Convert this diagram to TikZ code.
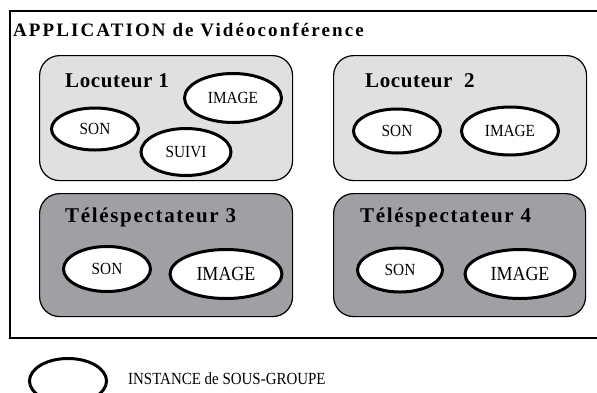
\documentclass[tikz,border=0pt]{standalone}
\usepackage{fontspec}
\setmainfont{Liberation Serif}
\usetikzlibrary{shapes.geometric}
\definecolor{lightpanel}{RGB}{224,224,224}
\definecolor{darkpanel}{RGB}{160,160,164}
\begin{document}
\begin{tikzpicture}[x=1pt,y=-1pt,
  panel/.style={draw=black, line width=1.2pt, rounded corners=20pt, anchor=north west, inner sep=0pt},
  inst/.style={ellipse, draw=black, line width=3pt, fill=white, inner sep=0pt,
    font=\fontsize{17}{17}\selectfont\addfontfeature{FakeStretch=0.9}},
  bigtext/.style={font=\fontsize{20}{20}\selectfont\addfontfeature{FakeStretch=0.9}},
  heading/.style={anchor=base west, inner sep=0pt}]
\useasboundingbox (0,0) rectangle (597,392);
\begin{scope}
\clip (0,0) rectangle (597,392);
% application frame (its right side runs past the page edge)
\node[draw=black, line width=1.5pt, anchor=north west, minimum width=610, minimum height=327, inner sep=0pt] (app) at (9,10) {};
\node[heading, font=\fontsize{19}{19}\selectfont\bfseries\addfontfeature{LetterSpace=11}] (title) at (13,36) {APPLICATION de Vidéoconférence};

% participant panels
\node[panel, fill=lightpanel, minimum width=253, minimum height=125] (loc1) at (39,55) {};
\node[panel, fill=lightpanel, minimum width=253, minimum height=125] (loc2) at (333,55) {};
\node[panel, fill=darkpanel, minimum width=253, minimum height=123] (tel3) at (39,193) {};
\node[panel, fill=darkpanel, minimum width=252, minimum height=123] (tel4) at (333,193) {};

\node[heading, font=\fontsize{21}{21}\selectfont\bfseries\addfontfeature{LetterSpace=3}] (loc1t) at (65,87) {Locuteur 1};
\node[heading, font=\fontsize{21}{21}\selectfont\bfseries\addfontfeature{LetterSpace=3}] (loc2t) at (365,87) {Locuteur\ \ 2};
\node[heading, font=\fontsize{21}{21}\selectfont\bfseries\addfontfeature{LetterSpace=8}] (tel3t) at (65,222) {Téléspectateur 3};
\node[heading, font=\fontsize{21}{21}\selectfont\bfseries\addfontfeature{LetterSpace=8}] (tel4t) at (360,222) {Téléspectateur 4};

% sub-group instances
\node[inst, minimum width=97, minimum height=49] (l1img) at (233,98) {IMAGE};
\node[inst, minimum width=87, minimum height=42] (l1son) at (95,129) {SON};
\node[inst, minimum width=90, minimum height=47] (l1suivi) at (186,152) {SUIVI};

\node[inst, minimum width=87, minimum height=44] (l2son) at (397,131) {SON};
\node[inst, minimum width=97, minimum height=48] (l2img) at (510,131) {IMAGE};

\node[inst, minimum width=87, minimum height=45] (t3son) at (107,269) {SON};
\node[inst, bigtext, minimum width=112, minimum height=49] (t3img) at (226,274) {IMAGE};

\node[inst, minimum width=85, minimum height=44] (t4son) at (400,270) {SON};
\node[inst, bigtext, minimum width=110, minimum height=49] (t4img) at (520,274) {IMAGE};

% legend
\node[inst, minimum width=77, minimum height=45] (legshape) at (68,381) {};
\node[heading, font=\fontsize{17}{17}\selectfont\addfontfeature{FakeStretch=0.88}] (legtext) at (128,384) {INSTANCE de SOUS-GROUPE};
\end{scope}
\end{tikzpicture}
\end{document}
